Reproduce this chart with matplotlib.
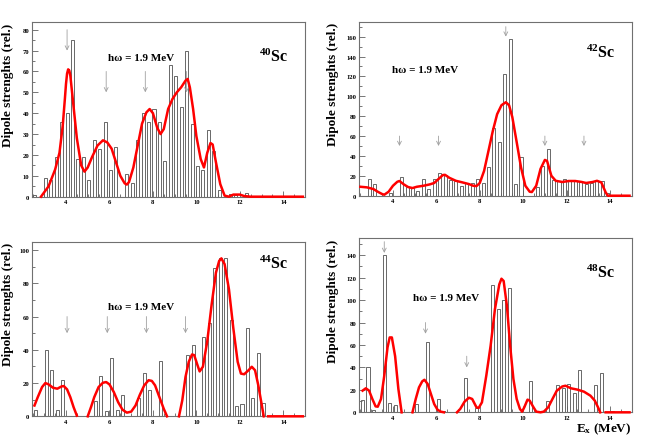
import numpy as np
import matplotlib
matplotlib.use('Agg')
import matplotlib.pyplot as plt
from matplotlib.ticker import MultipleLocator

plt.rcParams['font.family'] = 'Liberation Serif'
plt.rcParams['font.weight'] = 'bold'
plt.rcParams['mathtext.fontset'] = 'custom'
plt.rcParams['mathtext.rm'] = 'Liberation Serif:bold'
plt.rcParams['mathtext.bf'] = 'Liberation Serif:bold'
plt.rcParams['mathtext.it'] = 'Liberation Serif:bold'

nan = float('nan')

# ---- 40Sc ----
e40 = [2.55, 3.05, 3.3, 3.55, 3.8, 4.05, 4.3, 4.55, 4.8, 5.05, 5.3, 5.55, 5.8, 6.05, 6.3,
       6.8, 7.05, 7.3, 7.55, 7.8, 8.05, 8.3, 8.55, 8.8, 9.05, 9.3, 9.55, 9.8, 10.05, 10.3,
       10.55, 10.8, 11.05, 11.55, 11.8, 12.3]
s40 = [1, 9, 8, 19, 36, 40, 75, 18, 19, 8, 27, 23, 36, 13, 24,
       11, 6.5, 27, 40, 36, 42, 36, 17, 63, 58, 43, 70, 35, 14.5, 13,
       32, 22, 3, 1.5, 1, 2]
cx40 = [2.85, 3.2, 3.5, 3.7, 3.85, 3.95, 4.0, 4.05, 4.1, 4.15, 4.2, 4.25, 4.3, 4.4, 4.5,
        4.7, 4.85, 5.0, 5.2, 5.45, 5.7, 5.9, 6.1, 6.3, 6.5, 6.7, 6.8, 6.9, 7.1, 7.3,
        7.5, 7.7, 7.85, 8.0, 8.2, 8.35, 8.5, 8.7, 8.9, 9.1, 9.3, 9.5, 9.6, 9.7, 9.85,
        10.0, 10.2, 10.35, 10.5, 10.65, 10.75, 10.9, 11.1, 11.3, 11.5, 11.7, 12.0, 12.2,
        12.5, 14.9]
cy40 = [0, 5, 13, 21, 34, 47, 54, 59, 61, 60.5, 58, 53, 48, 38, 28,
        15, 12, 14, 19, 24.5, 27, 26, 23, 16.5, 10, 6.4, 5.8, 7, 14, 24.5,
        35, 40.4, 42, 40, 33, 30, 32.4, 42, 46.8, 50, 52.4, 55.6, 56.4, 52.4, 42,
        29, 18, 14, 21, 25.7, 25, 16.5, 6, 0.5, 0, 1, 1, 0.3,
        0, 0]
ax40 = [4.05, 5.85, 7.65, 9.55]
at40 = [80, 60, 60, 60]

# ---- 42Sc ----
e42 = [2.9, 3.15, 3.9, 4.4, 4.65, 4.9, 5.15, 5.4, 5.65, 5.9, 6.15, 6.4, 6.65, 6.9, 7.15,
       7.4, 7.65, 7.9, 8.15, 8.4, 8.65, 8.9, 9.15, 9.4, 9.65, 9.9, 10.65, 10.9, 11.15,
       11.4, 11.65, 11.9, 12.15, 12.4, 12.65, 12.9, 13.15, 13.4, 13.65, 13.9]
s42 = [17, 12, 3, 19, 9, 8, 5, 17, 7, 17, 23, 21, 16, 15, 10,
       13, 13, 17, 13, 29, 68, 54, 122, 158, 12, 39, 9, 30, 47,
       16, 15, 17, 16, 15, 15, 12, 13, 15, 15, 3]
cx42 = [2.5, 2.8, 3.1, 3.3, 3.5, 3.6, 3.8, 4.0, 4.2, 4.3, 4.5, 4.7, 4.9, 5.1, 5.4,
        5.7, 5.9, 6.1, 6.3, 6.4, 6.6, 6.9, 7.2, 7.5, 7.7, 7.85, 8.0, 8.2, 8.4, 8.6,
        8.8, 9.0, 9.2, 9.35, 9.5, 9.7, 9.9, 10.1, 10.3, 10.4, 10.6, 10.8, 11.0, 11.1,
        11.3, 11.5, 11.8, 12.1, 12.4, 12.7, 12.9, 13.2, 13.4, 13.6, 13.8, 13.9, 14.9]
cy42 = [9, 8.4, 6.7, 4, 1.7, 1, 4, 10, 14, 14.8, 11.4, 8.7, 7.7, 9, 10,
        11.4, 12.8, 16.8, 20.8, 21, 18, 15, 13.4, 11.7, 10, 9.7, 12.8, 25, 45, 65,
        82, 91, 94, 91, 79, 54, 28.5, 10, 4, 3.7, 10, 27, 36, 35,
        20, 15, 13.8, 14.8, 14.8, 13.8, 12.8, 13.8, 15, 13.4, 3.4, 0, 0]
ax42 = [4.3, 6.1, 9.2, 11.0, 12.8]
at42 = [60, 60, 170, 60, 60]

# ---- 44Sc ----
e44 = [2.6, 3.1, 3.35, 3.6, 3.85, 5.35, 5.6, 5.85, 6.1, 6.35, 6.6, 7.35, 7.6, 7.85, 8.35,
       9.6, 9.85, 10.35, 10.6, 10.85, 11.1, 11.35, 11.6, 11.85, 12.1, 12.35, 12.6, 12.85, 13.1]
s44 = [4, 40, 28, 4, 22, 9, 24, 3, 35, 3.5, 13, 11, 26, 16, 33,
       37, 43, 48, 56, 89, 95, 95, 58, 6.5, 7.5, 53, 11, 38, 8]
cx44 = [2.55, 2.7, 2.9, 3.05, 3.2, 3.4, 3.6, 3.8, 3.9, 4.05, 4.2, 4.35, 4.5, nan,
        5.0, 5.15, 5.3, 5.5, 5.7, 5.85, 6.0, 6.2, 6.4, 6.6, 6.8, 7.0, 7.2, 7.4, 7.6,
        7.8, 7.95, 8.1, 8.3, 8.5, 8.65, nan,
        9.2, 9.35, 9.5, 9.65, 9.8, 9.9, 10.05, 10.15, 10.3, 10.5, 10.7, 10.9, 11.05,
        11.15, 11.3, 11.5, 11.7, 11.9, 12.05, 12.2, 12.4, 12.55, 12.7, 12.85, 13.0,
        13.1, nan, 13.3, 14.9]
cy44 = [6.5, 11.5, 17.6, 20, 19.2, 17.2, 16.6, 18, 18.2, 16.2, 11.5, 5.5, 0.4, nan,
        0, 5.5, 11.5, 17.6, 20.2, 20.6, 19.2, 14.6, 8.5, 4, 2.2, 2.8, 6.5, 13, 18.6,
        21.7, 21.3, 18.6, 11.5, 4.5, 0, nan,
        0, 9.5, 23.7, 32.8, 37.2, 36.8, 30.8, 27, 29.8, 45, 67, 86.4, 93.5,
        95, 91.5, 76.3, 53, 32.8, 25.7, 25.3, 27.7, 29.8, 27.7, 18.6, 7.5,
        0, nan, 0, 0]
ax44 = [4.05, 5.9, 7.7, 9.5]
at44 = [60, 60, 60, 60]

# ---- 48Sc ----
e48 = [2.6, 2.85, 3.1, 3.6, 3.85, 4.1, 5.1, 5.6, 6.1, 6.35, 7.35, 7.85, 8.6, 8.85, 9.1,
       9.35, 10.35, 11.1, 11.6, 11.85, 12.1, 12.35, 12.6, 13.35, 13.6, 14.1]
s48 = [11, 40, 2, 140, 8, 6.5, 7.5, 63, 12, 1, 31, 4, 113, 92, 100,
       111, 28, 10, 24, 22, 25, 17, 38, 24, 35, 1]
cx48 = [2.6, 2.75, 2.9, 3.05, 3.2, 3.3, 3.45, 3.6, 3.75, 3.85, 3.95, 4.1, 4.25, 4.4, nan,
        4.9, 5.05, 5.2, 5.35, 5.45, 5.6, 5.75, 5.9, 6.05, 6.2, 6.35, nan,
        6.95, 7.1, 7.3, 7.5, 7.65, 7.85, 7.95, 8.1, 8.3, 8.5, 8.7, 8.9, 9.0, 9.1, 9.25,
        9.4, 9.55, 9.7, 9.85, 9.95, 10.05, 10.2, 10.3, 10.45, 10.6, 10.8, 10.95, 11.15,
        11.35, 11.55, 11.8, 11.95, 12.2, 12.5, 12.8, 13.1, 13.3, 13.45, 13.55, nan,
        13.8, 14.9]
cy48 = [19.3, 21.4, 19.3, 11.9, 5.3, 5, 11.9, 32.6, 57.8, 66.7, 66.7, 50, 20.8, 0, nan,
        0, 11.9, 22.2, 27.6, 29, 25.2, 16.3, 7.4, 2.4, 0.6, 0, nan,
        0, 3, 9.5, 13, 11.9, 4.4, 3.9, 8.9, 32.6, 59.3, 92, 114, 119, 117, 95,
        59.3, 29.7, 11.9, 3, 0.6, 4.4, 11.3, 10.4, 5.3, 0.6, 0, 0.6, 4.4,
        11.9, 19.3, 23, 23.7, 21.4, 20.2, 18.4, 14.8, 10.4, 4.4, 0, nan,
        0, 0]
ax48 = [3.6, 5.5, 7.4]
at48 = [152, 80, 50]

arrow_len = 10  # arrows span 10 units in every panel

panels = [
    ([0.0494, 0.5497, 0.417, 0.397], e40, s40, cx40, cy40, ax40, at40, 83.5, 10, '40',
     (0.40, 0.80), (0.885, 0.805), -0.089),
    ([0.5494, 0.5519, 0.4165, 0.3964], e42, s42, cx42, cy42, ax42, at42, 175, 20, '42',
     (0.24, 0.728), (0.885, 0.824), -0.097),
    ([0.0494, 0.0494, 0.417, 0.3977], e44, s44, cx44, cy44, ax44, at44, 105, 20, '44',
     (0.40, 0.63), (0.885, 0.878), -0.089),
    ([0.5494, 0.0585, 0.4165, 0.3964], e48, s48, cx48, cy48, ax48, at48, 155, 20, '48',
     (0.32, 0.657), (0.885, 0.805), -0.097),
]

fig = plt.figure(figsize=(6.54, 4.39), dpi=100)

for rect, e, s, cx, cy, arx, art, ymax, ystep, mass, hpos, npos, ylx in panels:
    ax = fig.add_axes(rect)
    ax.bar(e, s, width=0.14, facecolor='white', edgecolor='#505050', linewidth=0.6)
    ax.plot(cx, cy, color='red', lw=1.8, clip_on=False, zorder=4)
    # gray arrows marking the h-omega spacing
    for x0, y0 in zip(arx, art):
        ax.annotate('', xy=(x0, y0 - arrow_len), xytext=(x0, y0),
                    arrowprops=dict(arrowstyle='->', color='#a0a0a0', lw=0.6,
                                    mutation_scale=7, shrinkA=0, shrinkB=0))
    ax.set_xlim(2.45, 15)
    ax.set_ylim(0, ymax)
    ax.xaxis.set_major_locator(MultipleLocator(2))
    ax.xaxis.set_minor_locator(MultipleLocator(0.5))
    ax.yaxis.set_major_locator(MultipleLocator(ystep))
    ax.yaxis.set_minor_locator(MultipleLocator(ystep / 2))
    ax.tick_params(which='both', direction='in', colors='#606060', labelcolor='black',
                   labelsize=4.8, width=0.6, pad=2)
    ax.tick_params(which='major', length=4)
    ax.tick_params(which='minor', length=2)
    for sp in ax.spines.values():
        sp.set_color('#707070')
        sp.set_linewidth(0.8)
    ax.text(ylx, 1.0, 'Dipole strenghts (rel.)', transform=ax.transAxes, rotation=90,
            ha='center', va='top', fontsize=9.5, fontweight='bold')
    ax.text(hpos[0], hpos[1], 'h\u03c9 = 1.9 MeV', transform=ax.transAxes,
            ha='center', va='center', fontsize=8, fontweight='bold')
    ax.text(npos[0], npos[1], r'$^{' + mass + r'}$Sc', transform=ax.transAxes,
            ha='center', va='center', fontsize=11.5, fontweight='bold')
    if mass == '48':
        ax.text(1.0, -0.045, r'E$_{\rm x}$ (MeV)', transform=ax.transAxes,
                ha='right', va='top', fontsize=9.5, fontweight='bold')

fig.savefig('out.png', dpi=100)
